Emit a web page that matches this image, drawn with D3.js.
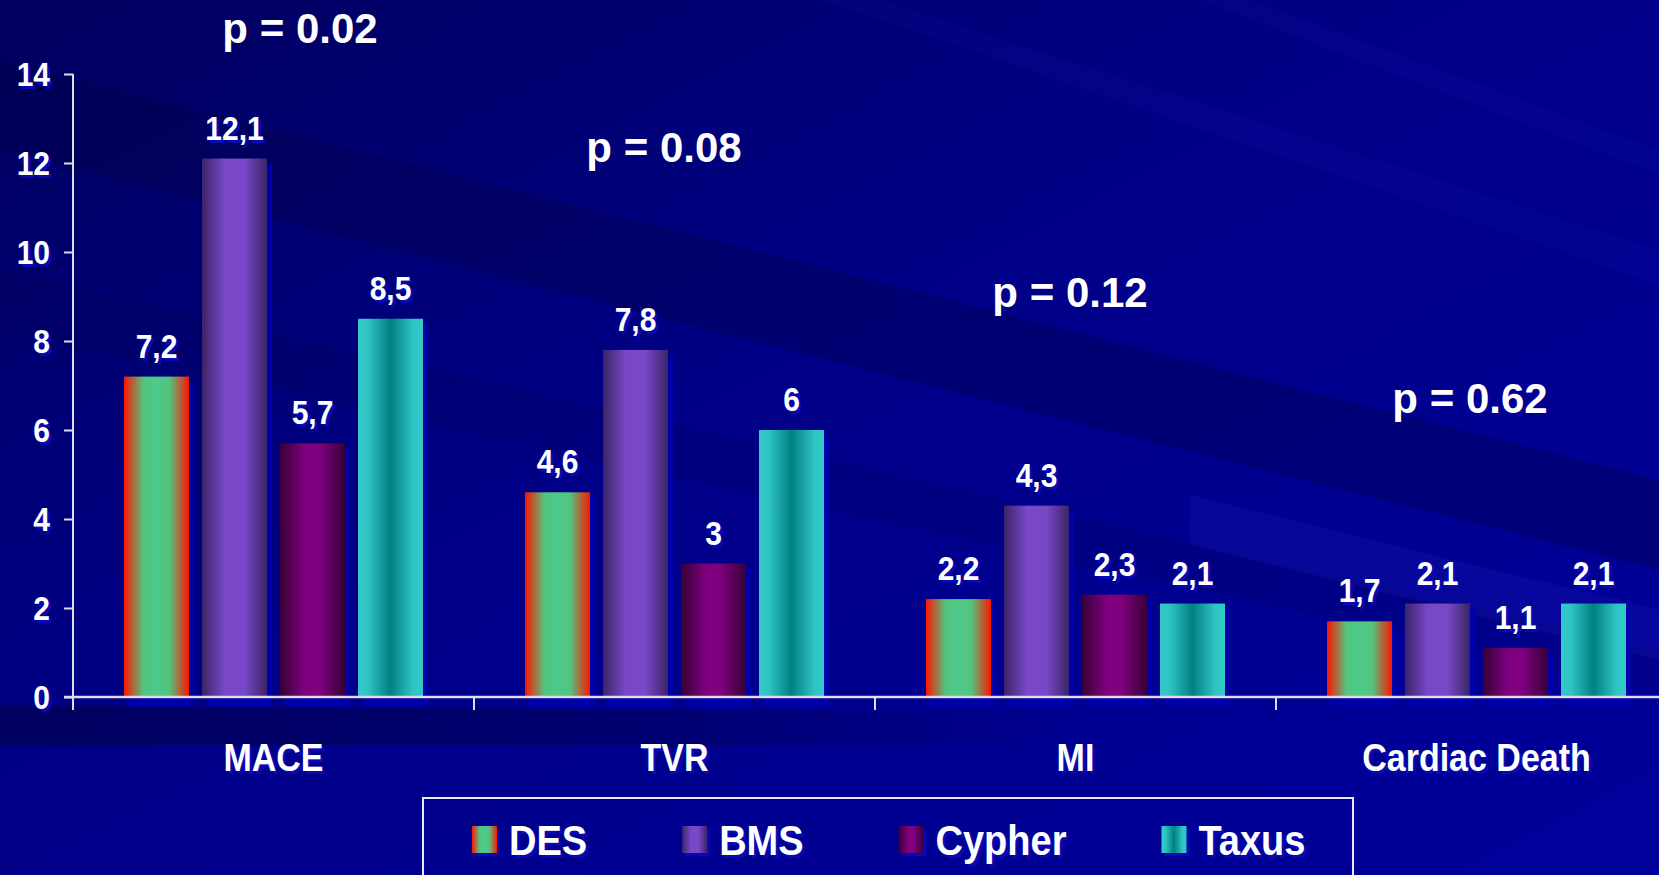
<!DOCTYPE html>
<html>
<head>
<meta charset="utf-8">
<script src="https://cdn.jsdelivr.net/npm/d3@7"></script>
<style>
  html, body { margin: 0; padding: 0; background: #000088; overflow: hidden; }
  svg { display: block; }
  text { font-family: "Liberation Sans", Arial, sans-serif; font-weight: bold; }
  .sh { text-shadow: 3px 3px 0 #0808b4; }
</style>
</head>
<body>
<svg id="chart" width="1659" height="875"></svg>
<script>
// data
var categories = ["MACE", "TVR", "MI", "Cardiac Death"]
var series = ["DES", "BMS", "Cypher", "Taxus"]
var desValues = [7.2, 4.6, 2.2, 1.7]
var bmsValues = [12.1, 7.8, 4.3, 2.1]
var cypherValues = [5.7, 3, 2.3, 1.1]
var taxusValues = [8.5, 6, 2.1, 2.1]
var pValues = ["p = 0.02", "p = 0.08", "p = 0.12", "p = 0.62"]
var yTicks = [0, 2, 4, 6, 8, 10, 12, 14]

var values = { DES: desValues, BMS: bmsValues, Cypher: cypherValues, Taxus: taxusValues }

// flat table for the bars
var rows = []
categories.forEach((c, i) => {
    series.forEach(s => rows.push({ category: c, key: s, value: values[s][i] }))
})

var svg = d3.select("#chart")
var width = +svg.attr("width")
var height = +svg.attr("height")

var defs = svg.append("defs")

// ---- background ----
var bg = defs.append("linearGradient").attr("id", "bg")
    .attr("x1", 0).attr("y1", 0).attr("x2", 1).attr("y2", 1)
bg.append("stop").attr("offset", 0).attr("stop-color", "#00005e")
bg.append("stop").attr("offset", 0.45).attr("stop-color", "#000088")
bg.append("stop").attr("offset", 1).attr("stop-color", "#00009c")

svg.append("rect").attr("width", width).attr("height", height).attr("fill", "url(#bg)")

// fade used for the dark band under the axis
var fade = defs.append("linearGradient").attr("id", "fade")
    .attr("x1", 0).attr("y1", 0).attr("x2", 1).attr("y2", 0)
fade.append("stop").attr("offset", 0).attr("stop-color", "#000040").attr("stop-opacity", 0.55)
fade.append("stop").attr("offset", 0.6).attr("stop-color", "#000040").attr("stop-opacity", 0.35)
fade.append("stop").attr("offset", 1).attr("stop-color", "#000040").attr("stop-opacity", 0)

// diagonal streaks
var streaks = [
    { pts: [[0, 60], [1659, 480], [1659, 570], [0, 150]], fill: "#000040", op: 0.3 },
    { pts: [[0, 270], [1659, 650], [1659, 690], [0, 330]], fill: "#000040", op: 0.15 },
    { pts: [[1190, 495], [1659, 610], [1659, 660], [1190, 545]], fill: "#3030d0", op: 0.14 },
    { pts: [[880, 0], [1659, 250], [1659, 285], [820, 0]], fill: "#2020c8", op: 0.08 },
    { pts: [[1250, 0], [1659, 150], [1659, 175], [1200, 0]], fill: "#2020c8", op: 0.08 },
    { pts: [[0, 705], [1100, 712], [1100, 745], [0, 745]], fill: "url(#fade)", op: 1 }
]
svg.append("g").selectAll("polygon")
    .data(streaks)
    .enter()
    .append("polygon")
    .attr("points", d => d.pts.map(p => p.join(",")).join(" "))
    .attr("fill", d => d.fill)
    .attr("opacity", d => d.op)

// ---- bar gradients ----
var gradStops = {
    DES: [[0, "#ff1400"], [0.3, "#52c47e"], [0.5, "#4ec98a"], [0.7, "#52c47e"], [1, "#ff1400"]],
    BMS: [[0, "#3c2466"], [0.35, "#7848c8"], [0.65, "#7848c8"], [1, "#3c2466"]],
    Cypher: [[0, "#380036"], [0.4, "#800080"], [0.6, "#800080"], [1, "#380036"]],
    Taxus: [[0, "#33c9c9"], [0.15, "#30c4c4"], [0.5, "#008080"], [0.85, "#30c4c4"], [1, "#33c9c9"]]
}
series.forEach(s => {
    var g = defs.append("linearGradient").attr("id", "g" + s)
        .attr("x1", 0).attr("y1", 0).attr("x2", 1).attr("y2", 0)
    gradStops[s].forEach(st => g.append("stop").attr("offset", st[0]).attr("stop-color", st[1]))
})

// ---- scales ----
var x0 = d3.scaleBand()
    .domain(categories)
    .range([73, 1677])
    .paddingInner(0)
    .paddingOuter(0)

var x1 = d3.scaleBand()
    .domain(series)
    .range([51, 350])
    .paddingInner(0.167)

var y = d3.scaleLinear()
    .domain([0, 14])
    .range([697, 74])

// stretched text helper (slide text is a bit taller than wide)
function stext(sel, sy) {
    return sel.attr("transform", d => `translate(${d.tx},${d.ty}) scale(1,${sy})`)
}

// ---- bars ----
var barG = svg.append("g")
barG.selectAll("rect.shadow")
    .data(rows)
    .enter()
    .append("rect")
    .attr("class", "shadow")
    .attr("x", d => x0(d.category) + x1(d.key) + 5)
    .attr("y", d => y(d.value) + 5)
    .attr("width", x1.bandwidth())
    .attr("height", d => y(0) - y(d.value) + 5)
    .attr("fill", "#0000a8")

barG.selectAll("rect.bar")
    .data(rows)
    .enter()
    .append("rect")
    .attr("class", "bar")
    .attr("x", d => x0(d.category) + x1(d.key))
    .attr("y", d => y(d.value))
    .attr("width", x1.bandwidth())
    .attr("height", d => y(0) - y(d.value))
    .attr("fill", d => "url(#g" + d.key + ")")

// value labels
var labelRows = rows.map(d => ({
    label: String(d.value).replace(".", ","),
    tx: x0(d.category) + x1(d.key) + x1.bandwidth() / 2,
    ty: y(d.value) - 19
}))
var vl = svg.append("g").attr("text-anchor", "middle").attr("font-size", 30)
stext(vl.selectAll("text").data(labelRows).enter().append("text")
    .attr("class", "sh").attr("fill", "#ffffff").text(d => d.label), 1.08)

// ---- axes ----
var axisColor = "#dcdcec"

// y axis ticks + labels
var yAxis = svg.append("g")
    .attr("transform", "translate(73,0)")
    .call(d3.axisLeft(y).tickValues(yTicks).tickSizeInner(9).tickSizeOuter(0).tickPadding(22))
yAxis.select(".domain").remove()
yAxis.selectAll(".tick line").attr("stroke", axisColor).attr("stroke-width", 2)
yAxis.selectAll(".tick text")
    .attr("class", "sh")
    .attr("fill", "#ffffff")
    .attr("font-size", 30)
    .attr("font-family", "Liberation Sans, Arial, sans-serif")
    .attr("font-weight", "bold")
    .attr("x", -23)
    .attr("dy", null)
    .attr("y", 11)
    .attr("transform", "scale(1,1.08)")

// y axis line (runs a bit below zero like the slide)
svg.append("line")
    .attr("x1", 73).attr("x2", 73)
    .attr("y1", y(14)).attr("y2", y(0) + 13)
    .attr("stroke", axisColor).attr("stroke-width", 2)

// x axis line
svg.append("line")
    .attr("x1", 64).attr("x2", width)
    .attr("y1", y(0)).attr("y2", y(0))
    .attr("stroke", axisColor).attr("stroke-width", 2.5)

// category separators
svg.append("g").selectAll("line")
    .data(categories.slice(1))
    .enter()
    .append("line")
    .attr("x1", d => x0(d)).attr("x2", d => x0(d))
    .attr("y1", y(0)).attr("y2", y(0) + 13)
    .attr("stroke", axisColor).attr("stroke-width", 2)

// category labels
var catRows = categories.map(c => ({ label: c, tx: x0(c) + x0.bandwidth() / 2, ty: 771 }))
var cl = svg.append("g").attr("text-anchor", "middle").attr("font-size", 34)
stext(cl.selectAll("text").data(catRows).enter().append("text")
    .attr("class", "sh").attr("fill", "#ffffff").text(d => d.label), 1.15)

// ---- p values ----
var pPos = [[300, 43], [664, 162], [1070, 307], [1470, 413]]
svg.append("g")
    .attr("text-anchor", "middle")
    .attr("font-size", 42)
    .selectAll("text")
    .data(pValues)
    .enter()
    .append("text")
    .attr("x", (d, i) => pPos[i][0])
    .attr("y", (d, i) => pPos[i][1])
    .attr("fill", "#ffffff")
    .text(d => d)

// ---- legend ----
var legend = svg.append("g")
legend.append("rect")
    .attr("x", 423).attr("y", 798)
    .attr("width", 930).attr("height", 120)
    .attr("fill", "none")
    .attr("stroke", "#e8e8f4")
    .attr("stroke-width", 2)

var lx = 472
series.forEach(s => {
    legend.append("rect")
        .attr("x", lx + 3).attr("y", 829)
        .attr("width", 25).attr("height", 27)
        .attr("fill", "#0808b4")
    legend.append("rect")
        .attr("x", lx).attr("y", 826)
        .attr("width", 25).attr("height", 27)
        .attr("fill", "url(#g" + s + ")")
    var t = legend.append("text").datum({ tx: lx + 37, ty: 855 })
        .attr("class", "sh")
        .attr("font-size", 38).attr("fill", "#ffffff").text(s)
    stext(t, 1.1)
    lx = lx + 37 + t.node().getComputedTextLength() + 95
})
</script>
</body>
</html>
